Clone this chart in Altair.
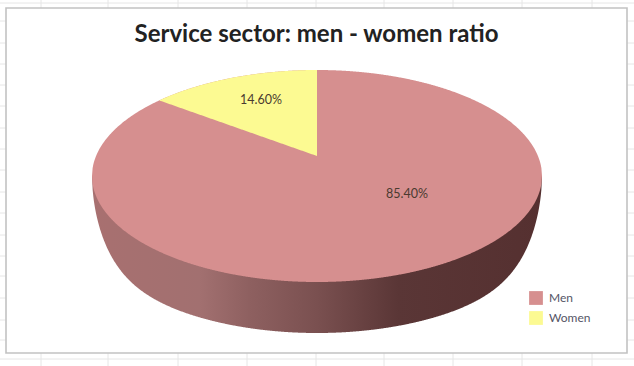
import numpy as np
import pandas as pd
import altair as alt

# Chart content
title_text = "Service sector: men - women ratio"
groups = ["Men", "Women"]
shares = [85.40, 14.60]
colors = ["#d68f8f", "#fcfa92"]

# Spreadsheet cell lines showing around the chart frame
grid_x = [41, 108, 178, 247, 316, 384, 453, 522, 592]
grid_y = [3, 21, 43, 64, 85, 106, 128, 149, 170, 192, 213, 235, 256, 276, 298, 320, 340, 359]

# Scene size and the projected pie disc
W, H = 634, 366
CX, CY, RX, RY = 317.0, 176.0, 225.0, 106.0
WALL = 51.0  # visible height of the pie's side wall at the front
APEX_Y = 156.0
PERSP = 0.1848  # foreshortening of the tilted disc


def rim(x, sign):
    """Upper (sign=-1) or lower (sign=+1) edge of the disc at x."""
    u = np.clip((x - CX) / RX, -1, 1)
    return CY + sign * RY * np.sqrt(1 - u * u)


def wall_bottom(x):
    """Lower outline of the side wall, tapering into the disc at both ends."""
    u = np.abs(np.clip((x - CX) / RX, -1, 1))
    return rim(x, 1) + WALL * (1 - u ** 10) ** 0.6


def edge_point(share):
    """Rim position reached going counter-clockwise from 12 o'clock by share percent."""
    t = np.radians(share * 3.6)
    d = 1 + PERSP * np.cos(t)
    return CX - 221.0 * np.sin(t) / d


xs = np.linspace(CX - RX, CX + RX, 721)

disc = pd.DataFrame({
    "x": xs,
    "top": rim(xs, -1),
    "bottom": rim(xs, 1),
    "group": groups[0],
})

side = pd.DataFrame({
    "x": xs,
    "top": np.full_like(xs, CY),
    "bottom": wall_bottom(xs),
})

x_edge = edge_point(shares[1])
wx = np.linspace(x_edge, CX, 120)
y_edge = rim(np.array([x_edge]), -1)[0]
wedge = pd.DataFrame({
    "x": wx,
    "top": rim(wx, -1),
    "bottom": y_edge + (APEX_Y - y_edge) * (wx - x_edge) / (CX - x_edge),
    "group": groups[1],
})

x_scale = alt.Scale(domain=[0, W], range=[0, W], nice=False, zero=False)
y_scale = alt.Scale(domain=[0, H], range=[0, H], nice=False, zero=False)
X = alt.X("x:Q", scale=x_scale, axis=None)
Y = alt.Y("top:Q", scale=y_scale, axis=None, stack=None)
color = alt.Color(
    "group:N",
    scale=alt.Scale(domain=groups, range=colors),
    legend=alt.Legend(
        title=None,
        orient="none",
        legendX=529,
        legendY=291,
        symbolType="square",
        symbolSize=190,
        symbolStrokeWidth=0,
        labelFont="Lato",
        labelFontSize=12,
        labelColor="#555566",
        labelOffset=6,
        rowPadding=6,
        padding=0,
    ),
)

grid_v = alt.Chart(pd.DataFrame({"x": grid_x})).mark_rule(color="#e6e6e6", strokeWidth=1).encode(x=X)
grid_h = alt.Chart(pd.DataFrame({"y": grid_y})).mark_rule(color="#e6e6e6", strokeWidth=1).encode(
    y=alt.Y("y:Q", scale=y_scale, axis=None)
)

frame = alt.Chart(pd.DataFrame({"x": [6], "x2": [627], "top": [8], "y2": [353]})).mark_rect(
    fill="white", stroke="#c2c2c2", strokeWidth=1.6
).encode(x=X, x2="x2:Q", y=alt.Y("top:Q", scale=y_scale, axis=None), y2="y2:Q")

side_gradient = alt.Gradient(
    gradient="linear",
    x1=0, x2=1, y1=0, y2=0,
    stops=[
        alt.GradientStop(offset=0.0, color="#a87070"),
        alt.GradientStop(offset=0.24, color="#a27070"),
        alt.GradientStop(offset=0.35, color="#8e6060"),
        alt.GradientStop(offset=0.5, color="#7a5050"),
        alt.GradientStop(offset=0.68, color="#5a3636"),
        alt.GradientStop(offset=1.0, color="#553030"),
    ],
)
side_layer = alt.Chart(side).mark_area(color=side_gradient).encode(x=X, y=Y, y2="bottom:Q")

disc_layer = alt.Chart(disc).mark_area().encode(x=X, y=Y, y2="bottom:Q", color=color)
wedge_layer = alt.Chart(wedge).mark_area().encode(x=X, y=Y, y2="bottom:Q", color=color)

title_layer = alt.Chart(pd.DataFrame({"x": [316.5], "top": [35], "t": [title_text]})).mark_text(
    font="Lato", fontSize=24, fontWeight="bold", color="#222222", align="center", baseline="middle"
).encode(x=X, y=alt.Y("top:Q", scale=y_scale, axis=None), text="t:N")

labels = pd.DataFrame({
    "x": [407, 261],
    "top": [194, 100],
    "t": [f"{v:.2f}%" for v in shares],
})
label_layer = alt.Chart(labels).mark_text(
    font="Lato", fontSize=12.5, color="#4a3a30", align="center", baseline="middle"
).encode(x=X, y=alt.Y("top:Q", scale=y_scale, axis=None), text="t:N")

chart = (
    alt.layer(grid_v, grid_h, frame, side_layer, disc_layer, wedge_layer, title_layer, label_layer)
    .properties(width=W, height=H, padding=0, background="white", autosize=alt.AutoSizeParams(type="none"))
    .configure_view(stroke=None)
)

chart.save("out.html", embed_options={"renderer": "svg", "actions": False})
